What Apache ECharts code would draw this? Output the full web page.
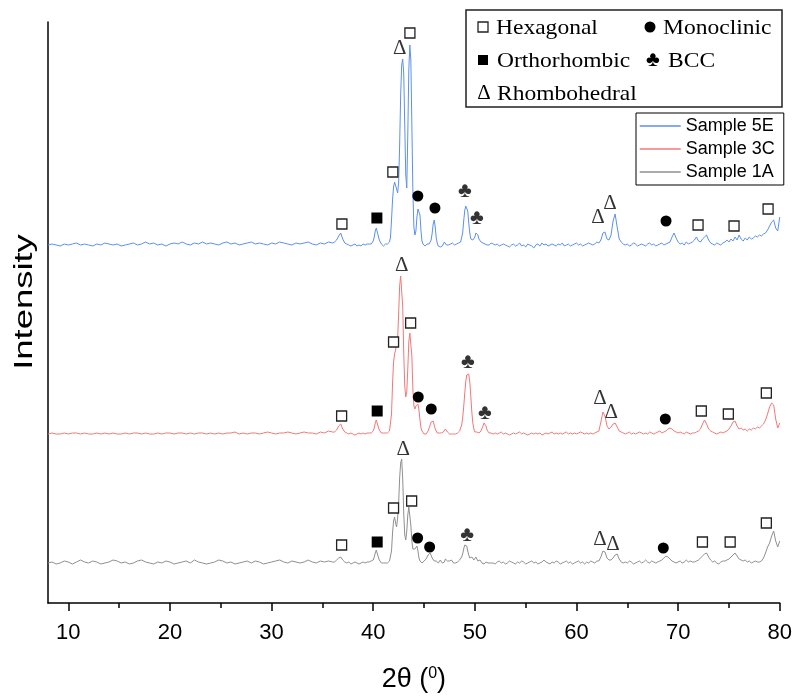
<!DOCTYPE html>
<html><head><meta charset="utf-8">
<script src="https://cdn.jsdelivr.net/npm/echarts@6/dist/echarts.min.js"></script>
<style>html,body{margin:0;padding:0;background:#fff}#c{width:795px;height:698px}</style>
</head><body><div id="c"></div>
<script>
// 2θ sampling: [start, end, step] per segment
const xSegments = [[8, 36, 0.4], [36.2, 39.4, 0.2], [39.5, 51.5, 0.1], [51.6, 80, 0.2]];
const xTicks = [10, 20, 30, 40, 50, 60, 70, 80];
const xMinorTicks = [15, 25, 35, 45, 55, 65, 75];
const sampleNames = ['Sample 5E', 'Sample 3C', 'Sample 1A'];
const sampleOffsets = [358, 169, 40];

// Sample 5E intensities (a.u., above its baseline)
const int5E = [
 0,1,0,-1,1,0,1,2,0,1, 0,-1,1,0,2,1,0,1,-1,0, 1,2,0,1,3,1,2,0,1,-1, 1,2,1,3,1,0,2,1,3,1,
 2,1,0,2,3,1,2,0,1,2, 3,1,2,1,0,2,1,3,2,1, 0,2,1,2,3,1,0,2,1,3, 2,
 3,5,9,12,6,2,1,0,-1,0,1,-1,0,-1,1,0,1,
 0,1,0,1,2,4,8,14,17,15, 9,5,3,1,0,-1,0,1,0,1, 2,3,8,25,45,58,63,64,56,52,
 62,100,150,180,186,172,120,70,57,110, 175,200,185,120,55,18,10,14,28,36,
 38,30,14,4,1,0,-1,0,1,0, 1,2,5,12,21,25,18,7,2,-1, 0,-2,0,-1,1,3,1,0,2,0,
 -1,1,0,2,1,0,-1,1,0,2, 1,3,5,12,24,34,39,40,34,22, 12,6,4,5,4,8,12,13,10,6,
 4,3,4,2,3,1,2,0,1,0, 1,
 2,1,0,1,-1,0,1,0,-1,-2, 0,1,-1,0,2,-1,0,-2,1,0, -1,-3,0,1,-1,2,0,1,-1,0,
 1,0,-1,1,0,2,-1,0,1,-1, 0,1,2,0,1,-1,0,1,2,1, 0,1,3,
 2,5,12,13,6,5,10,24,31,18,6,3,1,
 0,1,-1,0,2,1,-1,0,1,0,-1,1,2,0,1,-1,0,1,2,0,1,2,
 3,8,12,7,3,
 1,2,0,3,1,2,3,
 5,8,4,3,6,8,10,5,2,
 1,0,2,1,0,2,
 3,5,3,6,4,8,5,10,6,4,7,5,8,6,7,9,8,10,9,11, 12,15,19,23,25,17,14,28
];
// Sample 3C
const int3C = [
 0,1,0,0,1,0,1,1,0,1, 0,0,1,0,1,0,1,0,0,1, 0,1,1,0,1,0,0,1,0,1, 1,0,1,1,0,1,0,1,1,0,
 1,0,1,0,1,1,2,0,1,0, 1,1,0,1,2,1,0,1,1,2, 1,0,1,2,1,1,0,2,1,3, 2,
 2,4,8,10,5,2,1,0,1,0,-1,0,1,0,1,0,1,
 0,1,0,1,2,3,6,11,14,12, 7,4,2,1,0,1,0,1,0,1, 2,3,5,20,50,72,80,84,86,95,
 120,148,158,159,128,82,48,37,42,65, 92,101,102,78,45,28,25,28,30,30,
 24,14,6,3,1,0,1,0,2,3, 5,9,12,14,13,9,5,3,1,0, 1,0,1,0,2,3,5,4,2,1,
 0,1,0,1,0,1,0,1,1,2, 3,5,9,16,27,40,52,59,61,60, 52,38,22,11,5,2,1,2,0,1,
 2,3,5,8,11,11,8,4,2,1, 0,
 1,0,1,0,1,2,0,1,0,-1, 0,1,0,1,2,0,1,0,-1,0, 1,0,1,0,1,-1,0,1,0,1,
 2,0,1,0,1,0,1,2,0,1, 0,1,0,1,2,1,0,1,0,1, 0,1,2,
 3,12,22,18,8,5,7,10,11,7,3,2,1,
 0,1,2,0,1,0,1,2,1,0,1,0,2,1,0,1,2,3,1,2,3,5,
 6,5,3,2,1,
 2,1,0,2,1,0,1,
 1,2,3,5,10,14,10,5,3,
 2,1,0,1,2,1,
 2,3,5,8,12,13,8,5,6,4,5,3,5,4,6,5,7,6,8,10, 14,20,27,31,29,15,6,11
];
// Sample 1A
const int1A = [
 0,1,-1,0,2,1,-1,1,3,1, 0,2,1,-1,0,1,3,2,0,1, -1,0,2,3,1,0,-1,1,0,2, 1,-1,0,1,2,0,3,1,0,-1,
 0,1,3,2,0,1,-1,0,1,2, 0,2,1,-1,0,1,2,3,1,0, 2,1,0,1,3,1,0,2,1,2, 1,
 1,3,5,6,3,1,0,1,-1,0,1,0,-1,0,1,0,1,
 0,1,0,2,1,3,6,10,13,11, 6,3,1,0,1,0,1,0,1,0, 1,2,3,12,30,42,46,40,36,45,
 60,85,100,104,85,50,28,23,32,48, 56,54,38,22,14,12,14,16,17,12,
 5,2,1,0,1,2,3,4,6,8, 10,10,8,5,3,2,1,2,1,0, 1,3,2,0,-1,1,4,5,2,1,
 2,4,3,1,0,1,0,2,1,3, 3,4,6,9,14,18,20,17,12,8, 5,4,6,5,3,5,6,4,2,1,
 3,2,0,1,-1,0,1,-1,0,1, 0,
 1,0,-1,1,2,0,1,-1,0,2, 1,0,-1,1,0,2,1,-1,0,1, 2,0,1,-1,0,1,3,1,0,-1,
 1,0,2,1,-1,0,1,2,0,1, -1,0,1,2,0,1,-1,1,0,2, 1,0,2,
 2,6,12,11,5,3,3,5,8,9,4,1,0,
 1,0,2,1,-1,0,1,2,0,1,3,1,0,2,1,0,1,2,3,5,7,6,
 4,2,1,0,1,
 2,0,1,3,1,2,1,
 1,2,3,5,7,9,10,6,3,
 1,2,0,-1,1,2,
 2,3,4,6,8,10,7,4,3,2,3,1,2,0,1,2,1, 1,2,5,10,16,20,27,32,22,16,22
];

// Phase markers: [2θ, height above the sample baseline]
const hex5E = [[36.92,21],[41.93,73],[43.61,212],[71.96,20],[75.5,19],[78.85,36]];
const ortho5E = [[40.36,27]];
const mono5E = [[44.39,49],[46.07,37],[68.81,24]];
const rhombo5E = [[42.62,197],[62.12,28],[63.3,42]];
const bcc5E = [[49.02,54],[50.2,27]];
const hex3C = [[36.89,18],[42.0,92],[43.68,111],[72.28,23],[74.94,20],[78.68,41]];
const ortho3C = [[40.39,23]];
const mono3C = [[44.43,37],[45.71,25],[68.74,15]];
const rhombo3C = [[42.8,169],[62.31,36],[63.42,22]];
const bcc3C = [[49.32,72],[50.99,21]];
const hex1A = [[36.89,18],[42.0,55],[43.78,62],[72.39,21],[75.12,21],[78.68,40]];
const ortho1A = [[40.39,21]];
const mono1A = [[44.37,25],[45.55,16],[68.54,15]];
const rhombo1A = [[42.95,114],[62.31,24],[63.59,19]];
const bcc1A = [[49.25,28]];

const xs = [];
for (const [a, b, s] of xSegments) {
  const n = Math.round((b - a) / s);
  for (let i = 0; i <= n; i++) xs.push(+(a + i * s).toFixed(2));
}
[int5E, int3C, int1A].forEach((arr, k) => { if (arr.length !== xs.length) console.error('length', k, arr.length, xs.length); });

function lineData(vals, off) { return xs.map((x, i) => [x, vals[i] + off]); }
function shift(list, off) { return list.map(p => [p[0], p[1] + off]); }
const [o5, o3, o1] = sampleOffsets;

const colors = ['#5b8ff0', '#f07878', '#8f8f8f'];
const serif = "'Liberation Serif', 'Times New Roman', serif";
const sans = "'Liberation Sans', Arial, sans-serif";
const narrow = "'Liberation Sans Narrow', 'Arial Narrow', 'Liberation Sans', Arial, sans-serif";

const lineSeries = [int5E, int3C, int1A].map((vals, k) => ({
  name: sampleNames[k], type: 'line', data: lineData(vals, sampleOffsets[k]),
  symbol: 'none', showSymbol: false, smooth: false, animation: false,
  lineStyle: { color: colors[k], width: 1 }, itemStyle: { color: colors[k] }, z: 2
}));

const glyphLabel = (ch, size) => ({
  show: true, position: 'inside', formatter: ch, fontFamily: serif, fontSize: size, color: '#000'
});
const markerSeries = [
  { name: 'Hexagonal', type: 'scatter', symbol: 'rect', symbolSize: 10,
    itemStyle: { color: '#fff', borderColor: '#222', borderWidth: 1.3, opacity: 1 },
    data: [...shift(hex5E, o5), ...shift(hex3C, o3), ...shift(hex1A, o1)] },
  { name: 'Orthorhombic', type: 'scatter', symbol: 'rect', symbolSize: 11,
    itemStyle: { color: '#000', opacity: 1 },
    data: [...shift(ortho5E, o5), ...shift(ortho3C, o3), ...shift(ortho1A, o1)] },
  { name: 'Monoclinic', type: 'scatter', symbol: 'circle', symbolSize: 11,
    itemStyle: { color: '#000', opacity: 1 },
    data: [...shift(mono5E, o5), ...shift(mono3C, o3), ...shift(mono1A, o1)] },
  { name: 'Rhombohedral', type: 'scatter', symbol: 'circle', symbolSize: 1,
    itemStyle: { color: 'rgba(0,0,0,0)' }, label: glyphLabel('Δ', 21),
    data: [...shift(rhombo5E, o5), ...shift(rhombo3C, o3), ...shift(rhombo1A, o1)] },
  { name: 'BCC', type: 'scatter', symbol: 'circle', symbolSize: 1,
    itemStyle: { color: 'rgba(0,0,0,0)' }, label: glyphLabel('♣', 21),
    data: [...shift(bcc5E, o5), ...shift(bcc3C, o3), ...shift(bcc1A, o1)] }
].map(s => Object.assign(s, { z: 5, animation: false, emphasis: { disabled: true } }));

const chart = echarts.init(document.getElementById('c'), null, { renderer: 'canvas' });
const legText = (x, y, t) => ({ type: 'text', x: x, y: y, scaleX: 1.12, scaleY: 1, z: 120,
  style: { text: t, fontFamily: serif, fontSize: 21, fill: '#000', align: 'left', verticalAlign: 'middle' } });
chart.setOption({
  animation: false,
  grid: { left: 48, right: 14, top: 22, bottom: 95, containLabel: false },
  xAxis: [{
    type: 'value', min: 8, max: 80, position: 'bottom',
    axisLine: { show: true, onZero: false, lineStyle: { color: '#000', width: 1.5 } },
    axisTick: { show: true, customValues: xTicks, length: 8, lineStyle: { color: '#000', width: 1.5 } },
    axisLabel: { customValues: xTicks, margin: 19, fontSize: 22, fontFamily: narrow, color: '#000' },
    splitLine: { show: false },
    name: '{a|2θ (}{s|0}{a|)}', nameLocation: 'middle', nameGap: 63,
    nameTextStyle: { rich: {
      a: { fontSize: 27, fontFamily: narrow, color: '#000' },
      s: { fontSize: 16, fontFamily: narrow, color: '#000', verticalAlign: 'top' } } }
  }, {
    type: 'value', min: 8, max: 80, position: 'bottom',
    axisLine: { show: false },
    axisTick: { show: true, customValues: xMinorTicks, length: 5, lineStyle: { color: '#000', width: 1.5 } },
    axisLabel: { show: false }, splitLine: { show: false }
  }],
  yAxis: {
    type: 'value', min: 0, max: 581,
    axisLine: { show: true, onZero: false, lineStyle: { color: '#000', width: 1.5 } },
    axisTick: { show: false }, axisLabel: { show: false }, splitLine: { show: false }
  },
  legend: {
    data: sampleNames, orient: 'vertical', left: 636, top: 113,
    itemWidth: 41, itemHeight: 18, itemGap: 5, padding: [4, 9, 4, 3],
    borderColor: '#000', borderWidth: 1, backgroundColor: '#fff',
    itemStyle: { opacity: 0 }, lineStyle: { width: 1.5 },
    textStyle: { fontSize: 18, fontFamily: sans, color: '#000' }, selectedMode: false
  },
  graphic: [
    { type: 'text', x: 25, y: 302, rotation: Math.PI / 2, scaleX: 1.4, scaleY: 1,
      style: { text: 'Intensity', fontFamily: sans, fontSize: 26, fill: '#000', align: 'center', verticalAlign: 'middle' } },
    { type: 'rect', shape: { x: 466, y: 10, width: 316, height: 97 }, z: 100,
      style: { fill: '#fff', stroke: '#222', lineWidth: 1.5 } },
    { type: 'rect', shape: { x: 478, y: 22, width: 10, height: 10 }, z: 120, style: { fill: '#fff', stroke: '#222', lineWidth: 1.3 } },
    legText(496, 28, 'Hexagonal'),
    { type: 'circle', shape: { cx: 650, cy: 27, r: 5.5 }, z: 120, style: { fill: '#000' } },
    legText(663, 28, 'Monoclinic'),
    { type: 'rect', shape: { x: 478, y: 55, width: 10, height: 10 }, z: 120, style: { fill: '#000' } },
    legText(497, 61, 'Orthorhombic'),
    { type: 'text', x: 653, y: 60, z: 120, style: { text: '♣', fontFamily: serif, fontSize: 21, fill: '#000', align: 'center', verticalAlign: 'middle' } },
    legText(668, 61, 'BCC'),
    { type: 'text', x: 484, y: 93, z: 120, style: { text: 'Δ', fontFamily: serif, fontSize: 21, fill: '#000', align: 'center', verticalAlign: 'middle' } },
    legText(497, 94, 'Rhombohedral')
  ],
  series: [...lineSeries, ...markerSeries]
});
</script></body></html>
